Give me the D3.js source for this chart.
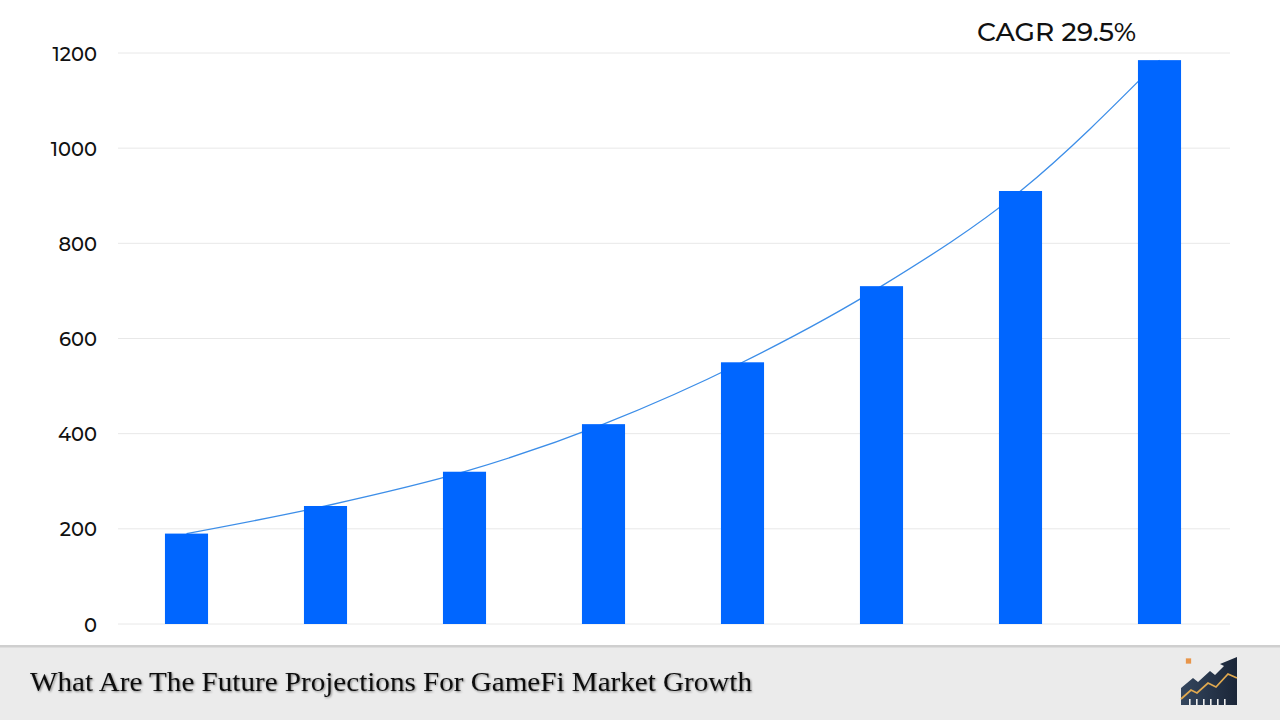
<!DOCTYPE html>
<html><head><meta charset="utf-8">
<script src="https://cdn.jsdelivr.net/npm/d3@7"></script>
<style>
html,body{margin:0;padding:0;background:#fff;}
svg{display:block;}
</style></head>
<body>
<svg id="chart" width="1280" height="720"></svg>
<script>
const categories = ["Y1","Y2","Y3","Y4","Y5","Y6","Y7","Y8"];
const values = [190, 248, 320, 420, 550, 710, 910, 1185];
const yTicks = [0, 200, 400, 600, 800, 1000, 1200];
const cagrLabel = "CAGR 29.5%";
const title = "What Are The Future Projections For GameFi Market Growth";

const svg = d3.select("#chart");
const W = 1280, H = 720;

const x = d3.scaleBand().domain(categories).range([117, 1229]).paddingInner(0.69).paddingOuter(0.345);
const y = d3.scaleLinear().domain([0, 1200]).range([624, 53]);

// grid
svg.append("g").selectAll("line").data(yTicks).join("line")
  .attr("x1", 118).attr("x2", 1230)
  .attr("y1", d => y(d)).attr("y2", d => y(d))
  .attr("stroke", "#e8e8e8").attr("stroke-width", 1);

// y axis labels
const yAxis = d3.axisLeft(y).tickValues(yTicks).tickFormat(d3.format("d")).tickSize(0).tickPadding(0);
const ga = svg.append("g").attr("transform", "translate(97,0)").call(yAxis);
ga.select(".domain").remove();
ga.selectAll("text").attr("font-family", "Montserrat, Inter, 'Noto Sans', sans-serif")
  .attr("font-size", 19.5).attr("font-weight", 500).attr("fill", "#111").attr("dy", "0.36em");

// trend line
const line = d3.line()
  .x(d => x(d[0]) + x.bandwidth() / 2)
  .y(d => y(d[1]))
  .curve(d3.curveMonotoneX);
svg.append("path")
  .datum(categories.map((c, i) => [c, values[i]]))
  .attr("d", line)
  .attr("fill", "none").attr("stroke", "#3d8ee8").attr("stroke-width", 1.3);

// bars
svg.append("g").selectAll("rect").data(values).join("rect")
  .attr("x", (d, i) => x(categories[i]))
  .attr("width", x.bandwidth())
  .attr("y", d => y(d))
  .attr("height", d => y(0) - y(d))
  .attr("fill", "#0066ff");

// CAGR label
svg.append("text").attr("x", 977).attr("y", 41)
  .attr("font-family", "Montserrat, Inter, 'Noto Sans', sans-serif")
  .attr("font-size", 26.5).attr("font-weight", 500).attr("fill", "#111").text(cagrLabel);

// footer
svg.append("rect").attr("x", 0).attr("y", 646).attr("width", W).attr("height", 74).attr("fill", "#ebebeb");
svg.append("rect").attr("x", 0).attr("y", 645).attr("width", W).attr("height", 2.5).attr("fill", "#cfcfcf");

const defs = svg.append("defs");
const f = defs.append("filter").attr("id", "sh").attr("x", "-5%").attr("y", "-20%").attr("width", "110%").attr("height", "150%");
f.append("feDropShadow").attr("dx", 1).attr("dy", 1).attr("stdDeviation", 0.8).attr("flood-color", "#000").attr("flood-opacity", 0.45);

svg.append("text").attr("x", 30).attr("y", 691)
  .attr("font-family", "'Liberation Serif', 'DejaVu Serif', serif")
  .attr("font-size", 27).attr("fill", "#111")
  .attr("textLength", 722).attr("lengthAdjust", "spacingAndGlyphs")
  .attr("filter", "url(#sh)")
  .text(title);

// icon
const ic = svg.append("g").attr("transform", "translate(1160,645)");
const grad = defs.append("linearGradient").attr("id", "ig").attr("x1", 0).attr("x2", 1).attr("y1", 0).attr("y2", 0);
grad.append("stop").attr("offset", 0).attr("stop-color", "#34465e");
grad.append("stop").attr("offset", 1).attr("stop-color", "#1b2638");
ic.append("path")
  .attr("d", "M21,43 L33,33 L38,37 L50,26 L55,30 L64,21 L60,19 L77,12 L77,60 L21,60 Z")
  .attr("fill", "url(#ig)");
ic.append("path")
  .attr("d", "M21,54 L31,45 L37,48 L48,38 L56,42 L68,29 L77,33")
  .attr("fill", "none").attr("stroke", "#e0a94f").attr("stroke-width", 1.8);
[29, 36, 43, 50, 57, 64].forEach(px => {
  ic.append("rect").attr("x", px).attr("y", 54).attr("width", 1.6).attr("height", 6).attr("fill", "#eee");
});
ic.append("path").attr("d", d3.symbol(d3.symbolSquare, 28)()).attr("transform", "translate(28.5,16)").attr("fill", "#e8954a");
</script>
</body></html>
